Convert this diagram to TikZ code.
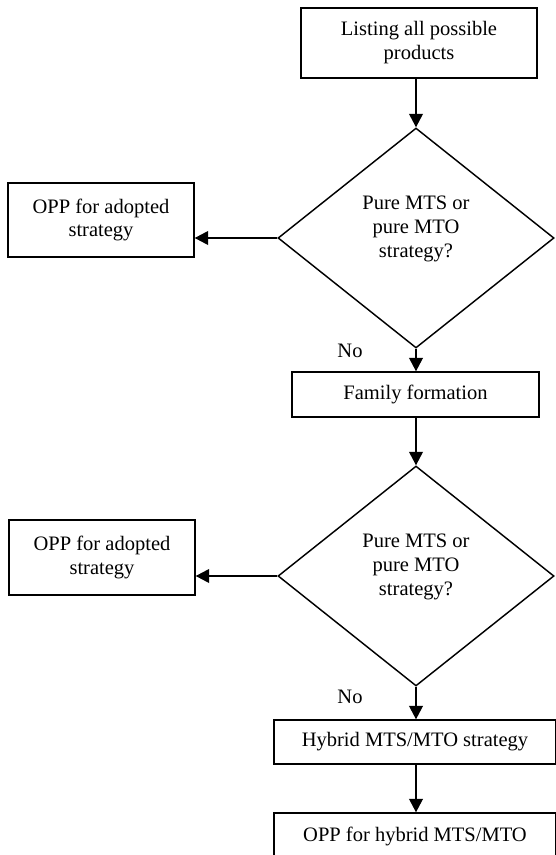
\documentclass[tikz,border=0pt]{standalone}
\usepackage{fontspec}
\setmainfont{Liberation Serif}
\usetikzlibrary{shapes.geometric,arrows.meta}

\newcommand{\puretext}{\raisebox{5.3pt}[\height][\depth]{\begin{tabular}{@{}c@{}}Pure MTS or\\pure MTO\\strategy?\end{tabular}}}

\begin{document}
\begin{tikzpicture}[x=0.585pt,y=0.585pt,yscale=-1,xscale=1,
    font=\fontsize{12}{14}\selectfont,
    box/.style={draw,line width=0.85pt,inner sep=1pt,align=center},
    decision/.style={draw,diamond,line width=0.85pt,inner sep=0pt,minimum width=161.5pt,minimum height=128.7pt},
    arr/.style={line width=0.85pt,-{Triangle[length=7.8pt,width=8pt]}}]
  \useasboundingbox (0,0) rectangle (555,855);

  % Process boxes
  \node [box,minimum width=138.1pt,minimum height=41pt] (list) at (419,43) {Listing all possible\\products};
  \node [box,minimum width=144.5pt,minimum height=26.3pt] (family) at (415.5,394.5) {Family formation};
  \node [box,minimum width=165pt,minimum height=25.7pt] (hybrid) at (415,742) {Hybrid MTS/MTO strategy};
  \node [box,minimum width=165pt,minimum height=26.9pt] (opphybrid) at (415,836) {OPP for hybrid MTS/MTO};

  % Decisions
  \node [decision] (pure1) at (416,238) {\puretext};
  \node [decision] (pure2) at (416,576) {\puretext};

  % Side boxes
  \node [box,minimum width=108.8pt,minimum height=43.3pt] (adopt1) at (101,220) {OPP for adopted\\strategy};
  \node [box,minimum width=108.8pt,minimum height=43.9pt] (adopt2) at (102,557.5) {OPP for adopted\\strategy};

  % Text Node
  \node (no1) at (350,351) {No};
  % Text Node
  \node (no2) at (350,697) {No};

  % Connectors
  \draw [arr] (pure1.north |- list.south) -- (pure1.north);
  \draw [arr] (pure1.west) -- (pure1.west -| adopt1.east);
  \draw [arr] (pure1.south) -- (family.north -| pure1.south);
  \draw [arr] (family.south -| pure2.north) -- (pure2.north);
  \draw [arr] (pure2.west) -- (pure2.west -| adopt2.east);
  \draw [arr] (pure2.south) -- (hybrid.north -| pure2.south);
  \draw [arr] (hybrid.south -| pure2.south) -- (opphybrid.north -| pure2.south);
\end{tikzpicture}
\end{document}
